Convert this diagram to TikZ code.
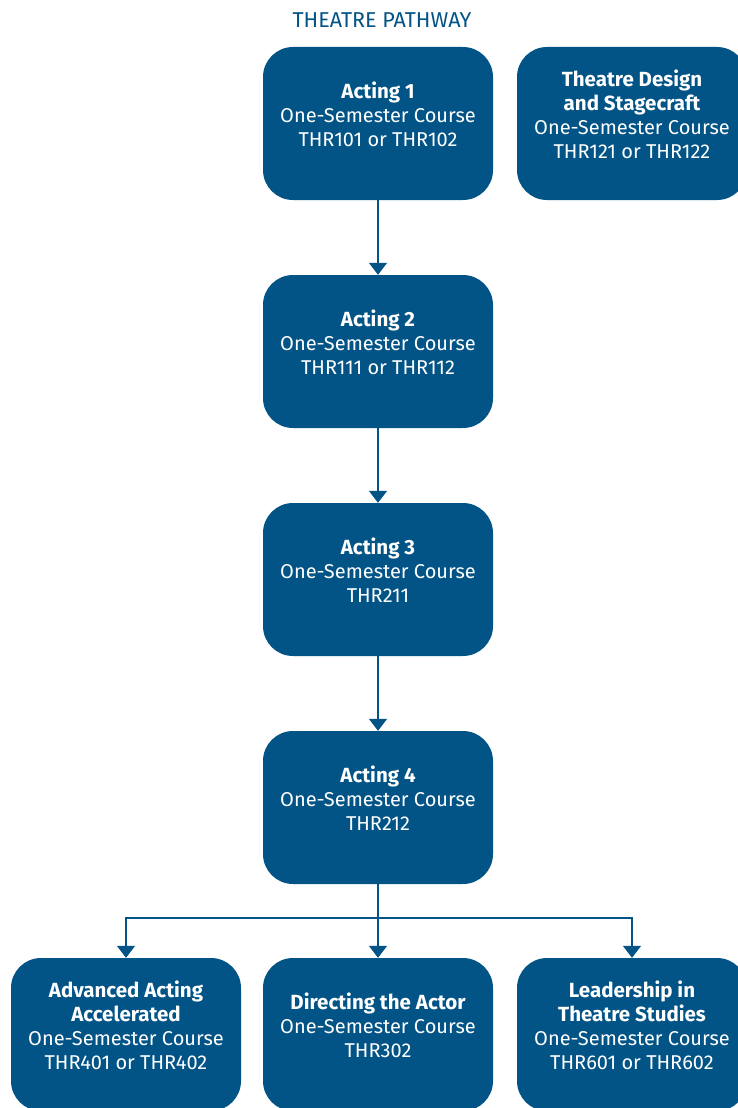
\documentclass[tikz,border=0pt]{standalone}
\usepackage{fontspec}
\setmainfont{Fira Sans}
\usetikzlibrary{arrows.meta,positioning}
\definecolor{navy}{RGB}{2,84,134}
\tikzset{
  box/.style={fill=navy, draw=none, rounded corners=30pt, minimum width=230pt, minimum height=153pt, inner sep=0pt},
  boxtext/.style={text=white, align=center, font=\fontsize{20}{24}\selectfont, inner sep=0pt},
  conn/.style={draw=navy, line width=1.3pt, -{Triangle[width=18pt,length=12pt]}},
  plain/.style={draw=navy, line width=1.3pt},
}
\newcommand{\hd}[1]{{\fontsize{20.5}{24}\selectfont\bfseries #1}}
\begin{document}
\begin{tikzpicture}[x=1pt,y=-1pt]
\useasboundingbox (0,0) rectangle (738,1108);
\begin{scope}
\clip (0,0) rectangle (738,1108);
\node[text=navy, font=\fontsize{21.5}{24}\selectfont] (title) at (382,20) {THEATRE PATHWAY};

\node[box] (a1) at (378,123.5) {};
\node[box] (td) at (632,123.5) {};
\node[box] (a2) at (378,351.5) {};
\node[box] (a3) at (378,579.5) {};
\node[box] (a4) at (378,807.5) {};
\node[box] (adv) at (126,1034.5) {};
\node[box] (dir) at (378,1034.5) {};
\node[box] (lead) at (632,1034.5) {};

\node[boxtext] (t1) at (378,114) {\hd{Acting 1}\\One-Semester Course\\THR101 or THR102};
\node[boxtext] (ttd) at (632,114) {\hd{Theatre Design}\\\hd{and Stagecraft}\\One-Semester Course\\THR121 or THR122};
\node[boxtext] (t2) at (378,342) {\hd{Acting 2}\\One-Semester Course\\THR111 or THR112};
\node[boxtext] (t3) at (378,570) {\hd{Acting 3}\\One-Semester Course\\THR211};
\node[boxtext] (t4) at (378,798) {\hd{Acting 4}\\One-Semester Course\\THR212};
\node[boxtext] (tadv) at (126,1025) {\hd{Advanced Acting}\\\hd{Accelerated}\\One-Semester Course\\THR401 or THR402};
\node[boxtext] (tdir) at (378,1025) {\hd{Directing the Actor}\\One-Semester Course\\THR302};
\node[boxtext] (tlead) at (632,1025) {\hd{Leadership in}\\\hd{Theatre Studies}\\One-Semester Course\\THR601 or THR602};

\coordinate (split) at (378,918);
\draw[conn] (a1.south) -- (a2.north);
\draw[conn] (a2.south) -- (a3.north);
\draw[conn] (a3.south) -- (a4.north);
\draw[plain] (a4.south) -- (split);
\draw[conn] (split) -| (adv.north);
\draw[conn] (split) -- (dir.north);
\draw[conn] (split) -| (lead.north);
\end{scope}
\end{tikzpicture}
\end{document}
